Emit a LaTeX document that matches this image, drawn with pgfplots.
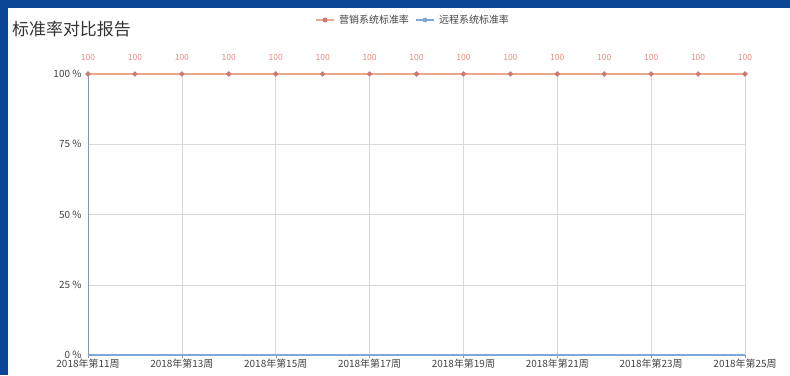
\documentclass[border=0pt]{standalone}
\usepackage{pgfplots}
\pgfplotsset{compat=1.18}
\usepackage{fontspec}
\setmainfont{Noto Sans CJK SC}
\definecolor{bgblue}{HTML}{0B4596}
\definecolor{redline}{HTML}{EBA98C}
\definecolor{redmark}{HTML}{C97A72}
\definecolor{redlabel}{HTML}{E58C84}
\definecolor{blueline}{HTML}{7FA8D8}
\definecolor{axisgray}{HTML}{8A97A8}
\definecolor{gridgray}{HTML}{DADADA}
\definecolor{txtgray}{HTML}{444444}
\begin{document}
\begin{tikzpicture}[x=1bp,y=1bp]
\useasboundingbox (0,0) rectangle (790,375);
\fill[bgblue] (0,0) rectangle (790,375);
\fill[white] (8,0) rectangle (790,367);
\node[anchor=west,font=\fontsize{17}{19}\selectfont,text=black!80,inner sep=0] at (12,346) {标准率对比报告};
% legend
\draw[redline,line width=1.2pt] (316,355) -- (334,355);
\fill[redmark] (325,355) circle (2.4);
\node[anchor=west,font=\fontsize{10}{11}\selectfont,text=txtgray,inner sep=0] at (339,355) {营销系统标准率};
\draw[blueline,line width=1.2pt] (416,355) -- (434,355);
\fill[blueline] (425,355) circle (2.4);
\node[anchor=west,font=\fontsize{10}{11}\selectfont,text=txtgray,inner sep=0] at (439,355) {远程系统标准率};
\begin{axis}[
  at={(88bp,20bp)}, anchor=south west,
  scale only axis, width=657bp, height=281bp,
  xmin=0, xmax=14, ymin=0, ymax=100,
  xtick={0,2,...,14},
  xticklabels={2018年第11周,2018年第13周,2018年第15周,2018年第17周,2018年第19周,2018年第21周,2018年第23周,2018年第25周},
  ytick={0,25,50,75,100},
  yticklabels={0 \%,25 \%,50 \%,75 \%,100 \%},
  axis lines*=left,
  axis line style={axisgray,line width=1pt},
  xmajorgrids, ymajorgrids,
  grid style={gridgray,line width=0.5pt},
  tick style={axisgray},
  major tick length=3bp,
  tick align=outside,
  ytick style={draw=none},
  /pgf/number format/assume math mode=true,
  ticklabel style={font=\fontsize{10}{11}\selectfont,text=txtgray},
  xticklabel style={yshift=2bp},
  clip=false,
]
\addplot[redline,line width=1.3pt,mark=*,mark size=1.9pt,mark options={fill=redmark,draw=redmark},
  nodes near coords,
  every node near coord/.append style={font=\fontsize{8.5}{9}\selectfont,text=redlabel,yshift=9bp}]
 coordinates {(0,100)(1,100)(2,100)(3,100)(4,100)(5,100)(6,100)(7,100)(8,100)(9,100)(10,100)(11,100)(12,100)(13,100)(14,100)};
\addplot[blueline,line width=1.3pt,mark=none]
 coordinates {(0,0)(1,0)(2,0)(3,0)(4,0)(5,0)(6,0)(7,0)(8,0)(9,0)(10,0)(11,0)(12,0)(13,0)(14,0)};
\end{axis}
\end{tikzpicture}
\end{document}
